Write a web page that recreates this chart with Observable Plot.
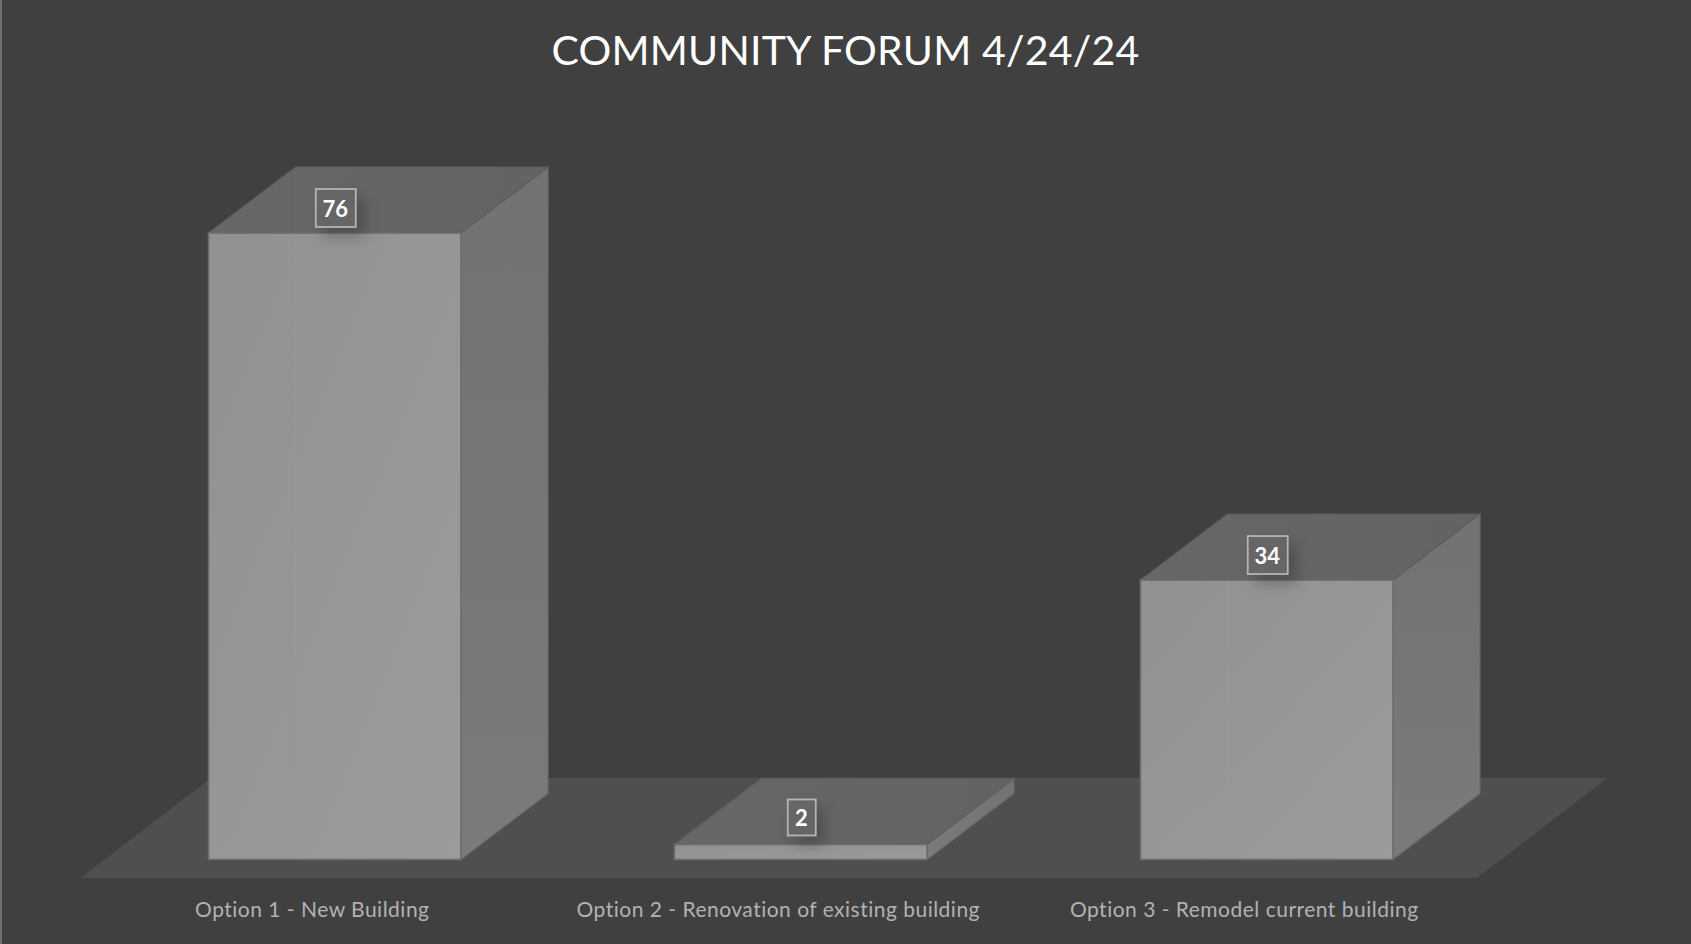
<!DOCTYPE html>
<html>
<head>
<meta charset="utf-8">
<script src="https://cdn.jsdelivr.net/npm/d3@7"></script>
<script src="https://cdn.jsdelivr.net/npm/@observablehq/plot@0.6"></script>
<style>
  html, body { margin: 0; padding: 0; width: 1691px; height: 944px; overflow: hidden; }
  body { background: linear-gradient(to right, #717171 0 2px, #404040 2px); }
  h1 { margin: 0; height: 88px; padding-top: 29px; box-sizing: border-box; text-align: center; color: #fff;
       font: 400 41px/1 Lato, sans-serif; letter-spacing: 0.2px; }
  svg { display: block; }
</style>
</head>
<body>
<h1>COMMUNITY FORUM 4/24/24</h1>
<div id="chart"></div>
<script>
const options = ["Option 1 - New Building", "Option 2 - Renovation of existing building", "Option 3 - Remodel current building"];
const votes = [76, 2, 34];
const table = options.map((option, i) => ({option, votes: votes[i]}));

// Oblique projection used for the 3D look (pixels)
const depthX = 87, depthY = -66;
const floorDepthX = 130.5, floorDepthY = -100;
const barLift = 1.5;

const g = () => d3.create("svg:g");
const pts = (list) => list.map((p) => p.join(",")).join(" ");

function defs() {
  const root = d3.create("svg:defs");
  const grad = (id, x2, y2, stops) => {
    const l = root.append("linearGradient").attr("id", id).attr("x1", 0).attr("y1", 0).attr("x2", x2).attr("y2", y2);
    stops.forEach(([o, c]) => l.append("stop").attr("offset", o).attr("stop-color", c));
  };
  grad("frontFace", 1, 1, [[0, "#919191"], [1, "#9b9b9b"]]);
  grad("sideFace", 0, 1, [[0, "#727272"], [1, "#7b7b7b"]]);
  grad("topFace", 1, 0, [[0, "#676767"], [1, "#636363"]]);
  return root.node();
}

function floor(index, {x, y}) {
  const first = x(options[0]), last = x(options[2]) + x.bandwidth();
  const y0 = y(0) + 17, xa = first - 128, xb = last + 84;
  return g().append("polygon")
    .attr("points", pts([[xa, y0], [xb, y0], [xb + floorDepthX, y0 + floorDepthY], [xa + floorDepthX, y0 + floorDepthY]]))
    .attr("fill", "#504e4e").node();
}

function faces(index, {x, y}) {
  const root = g();
  const bottom = y(0) - barLift;
  for (const d of table) {
    const l = x(d.option), r = l + x.bandwidth(), t = y(d.votes);
    root.append("polygon")
      .attr("points", pts([[r, t], [r + depthX, t + depthY], [r + depthX, bottom + depthY], [r, bottom]]))
      .attr("fill", "url(#sideFace)").attr("stroke", "#686868").attr("stroke-width", 1.2);
    root.append("polygon")
      .attr("points", pts([[l, t], [r, t], [r + depthX, t + depthY], [l + depthX, t + depthY]]))
      .attr("fill", "url(#topFace)").attr("stroke", "#5e5e5e").attr("stroke-width", 1.2);
  }
  return root.node();
}

function hiddenEdges(index, {x, y}) {
  const root = g();
  const bottom = y(0) - barLift;
  for (const d of table) {
    if (d.votes < 5) continue;
    const l = x(d.option), t = y(d.votes);
    root.append("polyline")
      .attr("points", pts([[l, bottom], [l + depthX, bottom + depthY], [l + depthX, t + depthY]]))
      .attr("fill", "none").attr("stroke", "#fff").attr("stroke-opacity", 0.02).attr("stroke-width", 1.5);
  }
  return root.node();
}

function labelBoxes(index, {x, y}) {
  const root = g();
  for (const d of table) {
    const w = String(d.votes).length > 1 ? 40 : 28, h = d.votes > 5 ? 38 : 36;
    const cx = x(d.option) + x.bandwidth() / 2 + 1;
    const cy = y(d.votes) - (d.votes > 5 ? 25 : 27);
    root.append("rect")
      .attr("x", cx - w / 2).attr("y", cy - h / 2).attr("width", w).attr("height", h)
      .attr("fill", "#666666").attr("stroke", "#b4b4b4").attr("stroke-width", 1.8)
      .style("filter", "drop-shadow(8px 9px 7px rgba(0,0,0,0.22))");
  }
  return root.node();
}

const tall = table.filter((d) => d.votes > 5), short = table.filter((d) => d.votes <= 5);
const valueText = {x: "option", y: "votes", text: (d) => String(d.votes), dx: 0, fill: "#fff", fontSize: 22, fontWeight: 700};

const chart = Plot.plot({
  width: 1691,
  height: 856,
  marginTop: 0, marginRight: 0, marginBottom: 85, marginLeft: 0,
  style: {background: "transparent", fontFamily: "Lato, sans-serif"},
  x: {domain: options, range: [208.5, 1393], paddingInner: 0.458, paddingOuter: 0, round: false, label: null},
  y: {domain: [0, 76], range: [773, 145], axis: null},
  marks: [
    defs,
    floor,
    faces,
    Plot.barY(table, {x: "option", y: "votes", insetBottom: barLift, fill: "url(#frontFace)", stroke: "#6c6c6c", strokeWidth: 1.6}),
    hiddenEdges,
    labelBoxes,
    Plot.text(tall, {...valueText, dy: -24}),
    Plot.text(short, {...valueText, dy: -26}),
    Plot.axisX({anchor: "bottom", tickSize: 0, tickPadding: 43, dx: -23, fontSize: 21, fill: "#b2b2b2", label: null})
  ]
});
document.getElementById("chart").append(chart);
// Letter spacing is a style of the axis labels
d3.select(chart).selectAll("text")
  .filter(function () { return this.textContent.startsWith("Option"); })
  .style("letter-spacing", "0.49px");
</script>
</body>
</html>
